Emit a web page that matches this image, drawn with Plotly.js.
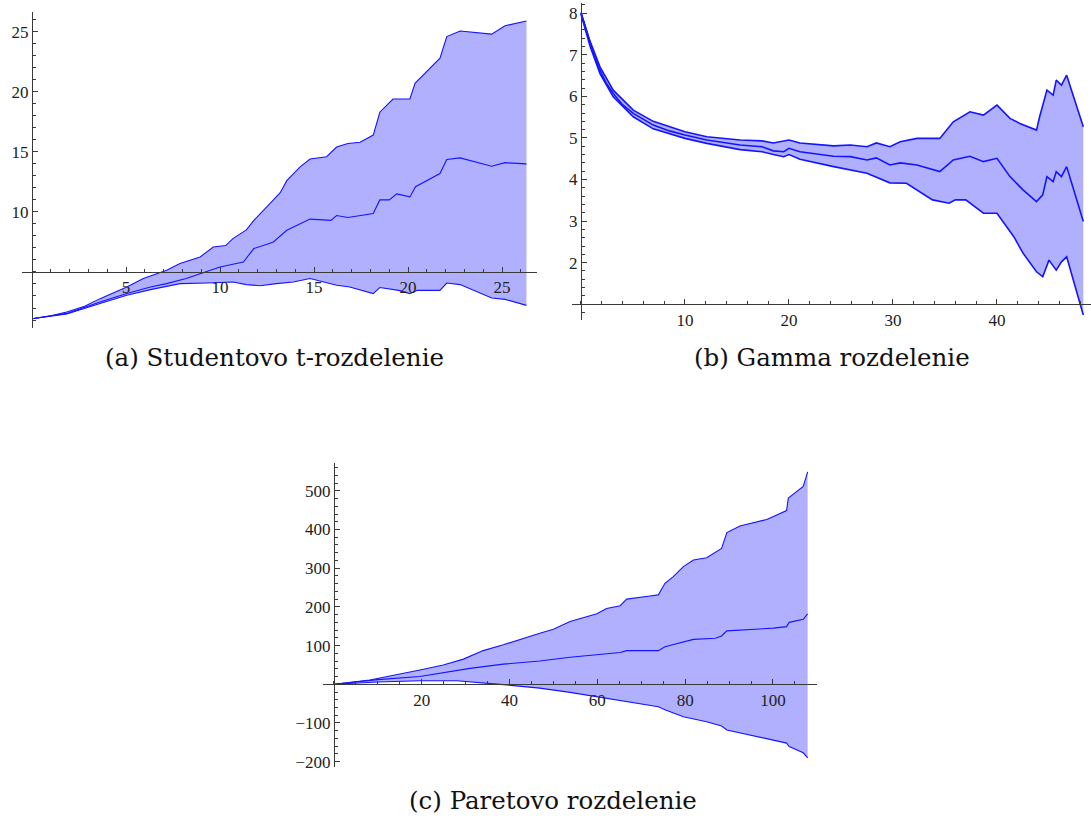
<!DOCTYPE html>
<html>
<head>
<meta charset="utf-8">
<script src="https://cdn.plot.ly/plotly-3.0.1.min.js"></script>
<style>
  html, body { margin: 0; padding: 0; background: #ffffff; }
  #chart { width: 1091px; height: 821px; }
</style>
</head>
<body>
<div id="chart"></div>
<script>
// (a) Studentovo t-rozdelenie: upper bound, mean, lower bound
const tUpperX = [0, 1.0, 1.85, 2.8, 3.62, 4.4, 5.04, 5.92, 6.6, 7.16, 7.87, 8.94, 9.64, 10.3, 10.7, 11.4, 11.8, 12.5, 12.84, 13.2, 13.55, 14.26, 14.79, 15.67, 16.2, 16.8, 17.45, 18.15, 18.5, 19.2, 20.1, 20.37, 21.7, 22.06, 22.77, 24.45, 25.16, 26.3];
const tUpperY = [1.1, 1.35, 1.67, 2.15, 2.78, 3.3, 3.75, 4.45, 4.8, 5.14, 5.7, 6.25, 7.08, 7.2, 7.8, 8.5, 9.3, 10.4, 11.0, 11.6, 12.6, 13.75, 14.4, 14.6, 15.4, 15.7, 15.8, 16.4, 18.3, 19.4, 19.4, 20.7, 22.8, 24.6, 25.06, 24.8, 25.5, 25.9];
const tMeanX = [0, 1.85, 3.62, 5.04, 6.3, 7.16, 8.2, 9.3, 10.0, 11.24, 11.8, 12.5, 12.84, 13.55, 14.26, 14.79, 15.9, 16.2, 16.8, 18.15, 18.5, 19.0, 19.4, 20.1, 20.4, 21.7, 22.06, 22.77, 24.45, 25.16, 26.3];
const tMeanY = [1.1, 1.55, 2.5, 3.2, 3.75, 4.03, 4.45, 5.08, 5.42, 5.83, 6.95, 7.3, 7.5, 8.47, 9.03, 9.4, 9.3, 9.7, 9.53, 9.87, 11.0, 11.0, 11.5, 11.25, 12.1, 13.2, 14.37, 14.5, 13.8, 14.1, 14.0];
const tLowerX = [0, 1.85, 3.62, 5.04, 6.3, 7.87, 9.3, 10.7, 11.4, 12.13, 13.0, 13.9, 14.79, 15.5, 16.2, 16.9, 18.15, 18.5, 19.5, 20.1, 20.5, 21.7, 22.06, 22.77, 24.45, 25.16, 26.3];
const tLowerY = [1.1, 1.5, 2.37, 3.06, 3.53, 4.03, 4.08, 4.17, 3.95, 3.85, 4.03, 4.17, 4.45, 4.2, 3.89, 3.75, 3.2, 3.7, 3.47, 3.2, 3.47, 3.47, 4.08, 3.95, 2.83, 2.72, 2.22];

// (b) Gamma rozdelenie
const gUpperX = [0, 0.87, 1.83, 3.1, 5.03, 6.95, 10.0, 12.1, 15.3, 17.4, 18.5, 20.0, 21.06, 24.3, 25.9, 27.5, 28.4, 29.7, 30.7, 32.3, 34.5, 35.8, 37.4, 38.7, 40.0, 41.25, 42.2, 43.8, 44.1, 44.8, 45.4, 45.7, 46.2, 46.7, 48.3];
const gUpperY = [8.02, 7.33, 6.71, 6.15, 5.67, 5.4, 5.15, 5.03, 4.95, 4.93, 4.88, 4.95, 4.88, 4.81, 4.83, 4.79, 4.88, 4.79, 4.91, 4.99, 4.99, 5.39, 5.63, 5.55, 5.79, 5.47, 5.35, 5.19, 5.51, 6.15, 6.03, 6.39, 6.27, 6.51, 5.27];
const gMeanX = [0, 0.5, 0.87, 1.3, 1.83, 2.4, 3.1, 4.0, 5.03, 6.0, 6.95, 8.5, 10.0, 12.1, 15.3, 17.4, 18.5, 19.5, 20.0, 21.06, 23.0, 24.3, 25.9, 27.5, 28.4, 29.7, 30.7, 32.3, 34.5, 35.8, 37.4, 38.7, 40.0, 41.25, 42.5, 43.8, 44.4, 44.8, 45.4, 45.7, 46.2, 46.7, 48.3];
const gMeanY = [8.0, 7.6, 7.27, 6.95, 6.63, 6.33, 6.07, 5.8, 5.59, 5.44, 5.31, 5.17, 5.07, 4.95, 4.83, 4.79, 4.69, 4.67, 4.75, 4.67, 4.61, 4.56, 4.55, 4.47, 4.52, 4.35, 4.40, 4.35, 4.19, 4.47, 4.56, 4.43, 4.51, 4.07, 3.75, 3.47, 3.63, 4.07, 3.95, 4.19, 4.07, 4.31, 2.99];
const gLowerX = [0, 0.87, 1.83, 3.1, 5.03, 6.95, 10.0, 12.1, 15.3, 17.4, 18.5, 19.5, 20.0, 21.06, 24.3, 27.5, 29.7, 31.3, 33.8, 35.4, 36.0, 37.0, 38.7, 40.0, 41.6, 42.5, 43.8, 44.4, 45.0, 45.7, 46.2, 46.7, 48.3];
const gLowerY = [7.98, 7.21, 6.55, 5.99, 5.51, 5.22, 4.99, 4.87, 4.72, 4.67, 4.6, 4.55, 4.6, 4.49, 4.31, 4.15, 3.92, 3.91, 3.51, 3.43, 3.51, 3.51, 3.19, 3.19, 2.63, 2.23, 1.78, 1.66, 2.06, 1.82, 2.02, 2.14, 0.74];

// (c) Paretovo rozdelenie
const pUpperX = [0, 8.2, 19.6, 24.9, 29.5, 34, 38.6, 43.1, 46.9, 50, 53.8, 59.9, 62.1, 65.2, 66.7, 72, 73.9, 75.4, 77.3, 79.6, 81.9, 84.9, 88.3, 89.5, 92.5, 98.6, 103.1, 103.5, 106.9, 107.9];
const pUpperY = [0, 11, 37, 50, 65, 87, 102, 119, 132, 142, 162, 182, 196, 203, 220, 228, 231, 261, 278, 304, 321, 327, 351, 392, 409, 426, 449, 481, 511, 549];
const pMeanX = [0, 10, 19.6, 31, 38.6, 46.9, 53.8, 59.9, 65.2, 66.7, 73.9, 75.4, 79.6, 81.9, 86.9, 88.3, 89.5, 100.1, 103.1, 103.7, 106.9, 107.9];
const pMeanY = [0, 12, 20, 41, 52, 60, 70, 76, 82, 87, 87, 97, 110, 116, 119, 125, 138, 145, 149, 160, 168, 182];
const pLowerX = [0, 10, 19.6, 28, 38.6, 46.9, 53.8, 59.9, 66.7, 73.9, 75.4, 79.6, 84.9, 88.3, 89.5, 103.1, 103.7, 106.9, 107.9];
const pLowerY = [0, 6, 9, 9, -1, -10, -21, -32, -45, -58, -66, -84, -97, -108, -118, -152, -161, -177, -190];

// Tick labels
const tXTicks = [5, 10, 15, 20, 25];
const tYTicks = [10, 15, 20, 25];
const gXTicks = [10, 20, 30, 40];
const gYTicks = [2, 3, 4, 5, 6, 7, 8];
const pXTicks = [20, 40, 60, 80, 100];
const pYTicks = [-200, -100, 100, 200, 300, 400, 500];

// Captions
const captions = ["(a) Studentovo t-rozdelenie", "(b) Gamma rozdelenie", "(c) Paretovo rozdelenie"];

const W = 1091, H = 821;
const LINE = '#1414ff';
const FILL = 'rgba(0,0,255,0.31)';
const AXC = '#3a3a3a';
const tickFont = { family: 'Liberation Serif, Times New Roman, serif', size: 17, color: '#222' };

// pixel helpers for domains / axis crossing positions
const px = v => v / W;
const py = v => 1 - v / H;

function band(xa, ya, lx, ly, mx, my, ux, uy, lw) {
  return [
    { x: lx, y: ly, xaxis: xa, yaxis: ya, mode: 'lines', line: { color: LINE, width: lw }, hoverinfo: 'skip' },
    { x: ux, y: uy, xaxis: xa, yaxis: ya, mode: 'lines', fill: 'tonexty', fillcolor: FILL, line: { color: LINE, width: lw }, hoverinfo: 'skip' },
    { x: mx, y: my, xaxis: xa, yaxis: ya, mode: 'lines', line: { color: LINE, width: lw }, hoverinfo: 'skip' }
  ];
}

const traces = [].concat(
  band('x', 'y', tLowerX, tLowerY, tMeanX, tMeanY, tUpperX, tUpperY, 1.1),
  band('x2', 'y2', gLowerX, gLowerY, gMeanX, gMeanY, gUpperX, gUpperY, 1.6),
  band('x3', 'y3', pLowerX, pLowerY, pMeanX, pMeanY, pUpperX, pUpperY, 1.1)
);

function axis(domain, range, position, ticks, minorStep) {
  return {
    domain, range, anchor: 'free', position,
    showline: true, linecolor: AXC, linewidth: 1,
    ticks: 'inside', ticklen: 5, tickwidth: 1, tickcolor: AXC,
    tickmode: 'array', tickvals: ticks,
    minor: { tickmode: 'linear', tick0: 0, dtick: minorStep, ticks: 'inside', ticklen: 3, tickcolor: AXC, showgrid: false },
    showgrid: false, zeroline: false, tickfont: tickFont, fixedrange: true
  };
}

const capFont = { family: 'DejaVu Serif, serif', size: 24.5, color: '#111' };

const layout = {
  width: W, height: H,
  margin: { l: 0, r: 0, t: 0, b: 0 },
  paper_bgcolor: '#ffffff', plot_bgcolor: 'rgba(0,0,0,0)',
  showlegend: false,
  // (a)
  xaxis: axis([px(21.7), px(537)], [-0.55, 26.86], py(271.7), tXTicks, 1),
  yaxis: axis([py(328.3), py(11.7)], [0.31, 26.67], px(32), tYTicks, 1),
  // (b)
  xaxis2: axis([px(571.7), 1], [-0.89, 49.04], py(304.3), gXTicks, 2),
  yaxis2: axis([py(320), py(3.3)], [0.62, 8.24], px(581), gYTicks, 0.2),
  // (c)
  xaxis3: axis([px(323.3), px(817.3)], [-2.41, 110.1], py(684.3), pXTicks, 5),
  yaxis3: axis([py(766.7), py(463.3)], [-213, 571], px(333.9), pYTicks, 20),
  annotations: [
    { text: captions[0], xref: 'paper', yref: 'paper', x: px(274), y: py(358), xanchor: 'center', yanchor: 'middle', showarrow: false, font: capFont },
    { text: captions[1], xref: 'paper', yref: 'paper', x: px(832), y: py(358), xanchor: 'center', yanchor: 'middle', showarrow: false, font: capFont },
    { text: captions[2], xref: 'paper', yref: 'paper', x: px(553), y: py(800), xanchor: 'center', yanchor: 'middle', showarrow: false, font: capFont }
  ]
};

Plotly.newPlot('chart', traces, layout, { staticPlot: true, displayModeBar: false });
</script>
</body>
</html>
